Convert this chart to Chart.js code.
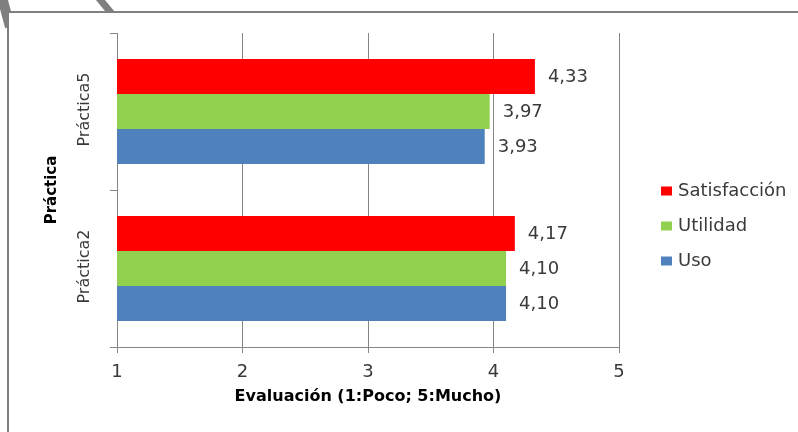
<!DOCTYPE html>
<html>
<head>
<meta charset="utf-8">
<script src="https://cdn.jsdelivr.net/npm/chart.js@4.4.0/dist/chart.umd.min.js"></script>
<style>
html, body { margin: 0; padding: 0; background: #fff; }
#wrap { width: 798px; height: 432px; position: relative; }
</style>
</head>
<body>
<div id="wrap"><canvas id="myChart"></canvas></div>
<script>

var categories = ['Práctica5', 'Práctica2'];
var seriesNames = ['Satisfacción', 'Utilidad', 'Uso'];
var satisfaccion = [4.33, 4.17];
var utilidad = [3.97, 4.10];
var uso = [3.93, 4.10];
var xTicks = [1, 2, 3, 4, 5];

var colors = ['#ff0000', '#92d050', '#4f81bd'];
var txt = '#3a3a3a';
var gridCol = '#868686';
var fam = 'DejaVu Sans';

function fmt(v) {
  return v.toFixed(2).replace('.', ',');
}

// white box with the gray frame lines + the bits of the slide in the corner
var framePlugin = {
  id: 'frame',
  beforeDraw: function(chart) {
    var c = chart.ctx;
    c.save();
    c.fillStyle = '#fff';
    c.fillRect(0, 0, chart.width, chart.height);
    c.strokeStyle = '#7f7f7f';
    c.lineWidth = 10;
    c.beginPath(); c.moveTo(2, -3); c.lineTo(10, 27); c.stroke();
    c.lineWidth = 7;
    c.beginPath(); c.moveTo(98, -3); c.lineTo(112, 14); c.stroke();
    c.fillStyle = '#fff';
    c.fillRect(9, 13, chart.width, chart.height);
    c.fillStyle = '#808080';
    c.fillRect(7, 11, chart.width, 2);
    c.fillRect(7, 11, 2, chart.height);
    c.restore();
  }
};

var labelPlugin = {
  id: 'labels',
  afterDatasetsDraw: function(chart) {
    var c = chart.ctx;
    var area = chart.chartArea;
    var ys = chart.scales.y;
    c.save();

    // value labels
    c.font = '18px "' + fam + '"';
    c.fillStyle = txt;
    c.textAlign = 'left';
    c.textBaseline = 'middle';
    chart.data.datasets.forEach(function(ds, i) {
      var meta = chart.getDatasetMeta(i);
      meta.data.forEach(function(bar, j) {
        c.fillText(fmt(ds.data[j]), bar.x + 13, bar.y + 1);
      });
    });

    // category labels (rotated)
    c.font = '16px "' + fam + '"';
    c.textAlign = 'center';
    categories.forEach(function(cat, j) {
      c.save();
      c.translate(85, ys.getPixelForValue(j) - 2);
      c.rotate(-Math.PI / 2);
      c.fillText(cat, 0, 0);
      c.restore();
    });

    // y axis title
    c.font = 'bold 15px "' + fam + '"';
    c.fillStyle = '#000';
    c.save();
    c.translate(52, (area.top + area.bottom) / 2);
    c.rotate(-Math.PI / 2);
    c.fillText('Práctica', 0, 0);
    c.restore();

    // legend
    c.font = '18px "' + fam + '"';
    c.textAlign = 'left';
    seriesNames.forEach(function(n, i) {
      var ly = 191 + i * 35;
      c.fillStyle = colors[i];
      c.fillRect(661, ly - 4.5, 11, 9);
      c.fillStyle = txt;
      c.fillText(n, 678, ly);
    });

    c.restore();
  }
};

var ctx = document.getElementById('myChart').getContext('2d');

var myChart = new Chart(ctx, {
  type: 'bar',
  data: {
    labels: categories,
    datasets: [
      { label: seriesNames[0], data: satisfaccion, backgroundColor: colors[0] },
      { label: seriesNames[1], data: utilidad, backgroundColor: colors[1] },
      { label: seriesNames[2], data: uso, backgroundColor: colors[2] }
    ]
  },
  options: {
    indexAxis: 'y',
    responsive: true,
    maintainAspectRatio: false,
    animation: false,
    layout: { padding: { left: 0, top: 33, right: 179, bottom: 0 } },
    datasets: { bar: { categoryPercentage: 0.67, barPercentage: 1 } },
    plugins: {
      legend: { display: false },
      tooltip: { enabled: false }
    },
    scales: {
      x: {
        min: xTicks[0],
        max: xTicks[xTicks.length - 1],
        afterBuildTicks: function(s) {
          s.ticks = xTicks.map(function(v) { return { value: v }; });
        },
        ticks: { color: txt, font: { family: fam, size: 18 }, padding: 9 },
        grid: { color: gridCol, tickLength: 6 },
        border: { color: gridCol },
        title: {
          display: true,
          text: 'Evaluación (1:Poco; 5:Mucho)',
          color: '#000',
          font: { family: fam, size: 16, weight: 'bold' },
          padding: { top: 0, bottom: 26 }
        },
        afterFit: function(s) { s.height = 85; }
      },
      y: {
        grid: { drawOnChartArea: false, offset: true, color: gridCol, tickLength: 7 },
        border: { color: gridCol },
        ticks: { display: false },
        afterFit: function(s) { s.width = 117; }
      }
    }
  },
  plugins: [framePlugin, labelPlugin]
});

</script>
</body>
</html>
